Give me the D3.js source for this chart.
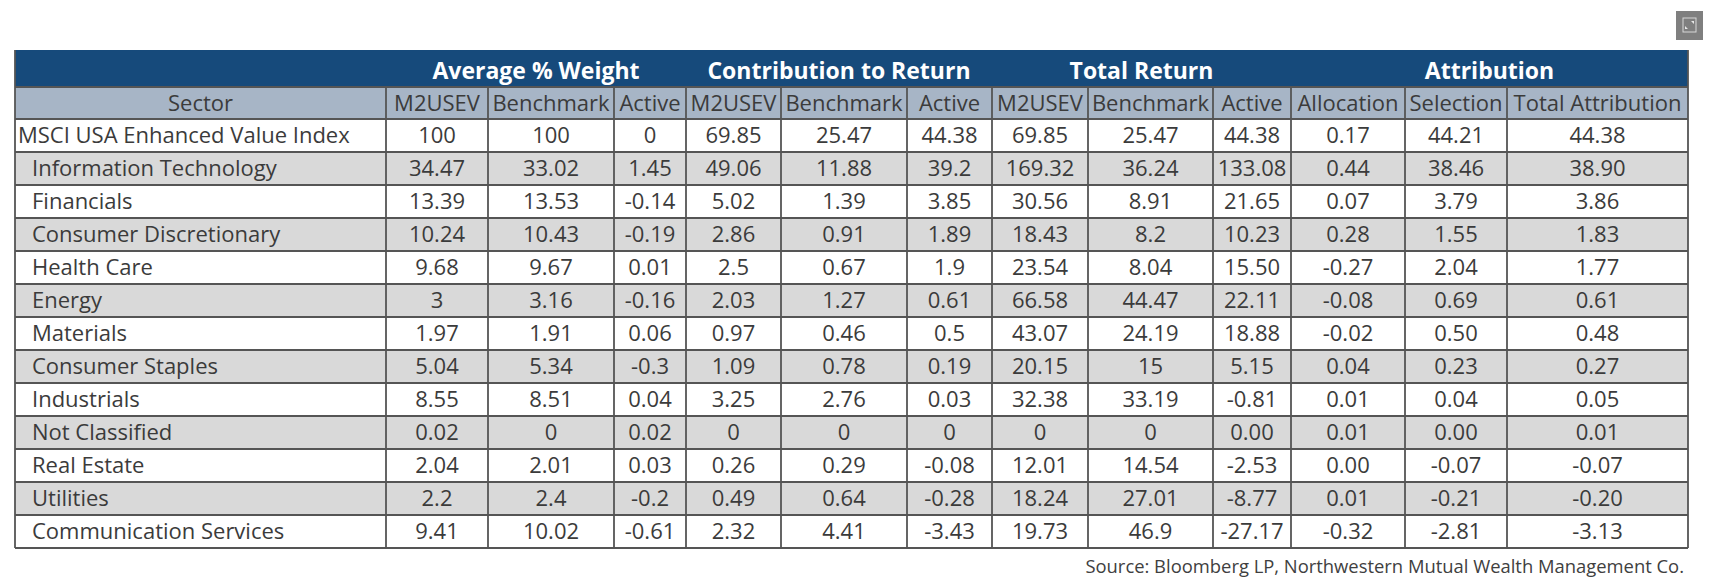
<!DOCTYPE html>
<html>
<head>
<meta charset="utf-8">
<script src="https://cdn.jsdelivr.net/npm/d3@7"></script>
<style>
  body { margin: 0; background: #fff; }
  svg { display: block; }
  .cell text { font-family: "Open Sans", sans-serif; fill: #3b3b3b; }
</style>
</head>
<body>
<div id="chart"></div>
<script>
var sectors = ["MSCI USA Enhanced Value Index", "Information Technology", "Financials",
  "Consumer Discretionary", "Health Care", "Energy", "Materials", "Consumer Staples",
  "Industrials", "Not Classified", "Real Estate", "Utilities", "Communication Services"];

var groups = ["Average % Weight", "Contribution to Return", "Total Return", "Attribution"];
var columns = ["Sector", "M2USEV", "Benchmark", "Active", "M2USEV", "Benchmark", "Active",
  "M2USEV", "Benchmark", "Active", "Allocation", "Selection", "Total Attribution"];

var weightFund   = ["100", "34.47", "13.39", "10.24", "9.68", "3", "1.97", "5.04", "8.55", "0.02", "2.04", "2.2", "9.41"];
var weightBench  = ["100", "33.02", "13.53", "10.43", "9.67", "3.16", "1.91", "5.34", "8.51", "0", "2.01", "2.4", "10.02"];
var weightActive = ["0", "1.45", "-0.14", "-0.19", "0.01", "-0.16", "0.06", "-0.3", "0.04", "0.02", "0.03", "-0.2", "-0.61"];

var contribFund   = ["69.85", "49.06", "5.02", "2.86", "2.5", "2.03", "0.97", "1.09", "3.25", "0", "0.26", "0.49", "2.32"];
var contribBench  = ["25.47", "11.88", "1.39", "0.91", "0.67", "1.27", "0.46", "0.78", "2.76", "0", "0.29", "0.64", "4.41"];
var contribActive = ["44.38", "39.2", "3.85", "1.89", "1.9", "0.61", "0.5", "0.19", "0.03", "0", "-0.08", "-0.28", "-3.43"];

var returnFund   = ["69.85", "169.32", "30.56", "18.43", "23.54", "66.58", "43.07", "20.15", "32.38", "0", "12.01", "18.24", "19.73"];
var returnBench  = ["25.47", "36.24", "8.91", "8.2", "8.04", "44.47", "24.19", "15", "33.19", "0", "14.54", "27.01", "46.9"];
var returnActive = ["44.38", "133.08", "21.65", "10.23", "15.50", "22.11", "18.88", "5.15", "-0.81", "0.00", "-2.53", "-8.77", "-27.17"];

var allocation = ["0.17", "0.44", "0.07", "0.28", "-0.27", "-0.08", "-0.02", "0.04", "0.01", "0.01", "0.00", "0.01", "-0.32"];
var selection  = ["44.21", "38.46", "3.79", "1.55", "2.04", "0.69", "0.50", "0.23", "0.04", "0.00", "-0.07", "-0.21", "-2.81"];
var totalAttr  = ["44.38", "38.90", "3.86", "1.83", "1.77", "0.61", "0.48", "0.27", "0.05", "0.01", "-0.07", "-0.20", "-3.13"];

var source = "Source: Bloomberg LP, Northwestern Mutual Wealth Management Co.";

// ---- layout ----
var W = 1716, H = 584;
var left = 15, groupTop = 50, headTop = 87, bodyTop = 119, bodyBottom = 548;
var colWidths = [371, 102, 126, 72, 95, 126, 85, 96, 125, 78, 114, 102, 181];
var groupSpans = [[1, 3], [4, 6], [7, 9], [10, 12]];
var cellFont = 22;

var edges = [left].concat(Array.from(d3.cumsum(colWidths), function(d) { return left + d; }));
var right = edges[edges.length - 1];

var x = d3.scaleOrdinal().domain(d3.range(columns.length)).range(edges.slice(0, -1));
function colW(i) { return colWidths[i]; }

var y = d3.scaleBand().domain(sectors).range([bodyTop, bodyBottom]);

var valueCols = [weightFund, weightBench, weightActive, contribFund, contribBench, contribActive,
  returnFund, returnBench, returnActive, allocation, selection, totalAttr];

var rows = sectors.map(function(s, i) {
  return { sector: s, i: i, values: valueCols.map(function(c) { return c[i]; }) };
});

var svg = d3.select("#chart").append("svg")
  .attr("width", W)
  .attr("height", H);

// blue group band
svg.append("rect")
  .attr("x", left).attr("y", groupTop)
  .attr("width", right - left).attr("height", headTop - groupTop)
  .attr("fill", "#164a7b");

svg.append("g").selectAll("text")
  .data(groups)
  .enter().append("text")
  .attr("x", function(d, i) {
    var s = groupSpans[i];
    return (edges[s[0]] + edges[s[1] + 1]) / 2;
  })
  .attr("y", (groupTop + headTop) / 2 + 2)
  .attr("dy", "0.36em")
  .attr("text-anchor", "middle")
  .style("font-family", "'Open Sans', sans-serif")
  .style("font-weight", "bold")
  .style("font-size", "23px")
  .style("fill", "#fff")
  .text(function(d) { return d; });

// column header row
var head = svg.append("g").attr("class", "cell");
head.append("rect")
  .attr("x", left).attr("y", headTop)
  .attr("width", right - left).attr("height", bodyTop - headTop)
  .attr("fill", "#a7b5c6");

head.selectAll("text")
  .data(columns)
  .enter().append("text")
  .attr("x", function(d, i) { return x(i) + colW(i) / 2; })
  .attr("y", (headTop + bodyTop) / 2)
  .attr("dy", "0.36em")
  .attr("text-anchor", "middle")
  .style("font-size", cellFont + "px")
  .text(function(d) { return d; });

// body rows
var rowG = svg.append("g").attr("class", "cell")
  .selectAll("g")
  .data(rows)
  .enter().append("g")
  .attr("transform", function(d) { return "translate(0," + y(d.sector) + ")"; });

rowG.append("rect")
  .attr("x", left)
  .attr("width", right - left)
  .attr("height", y.bandwidth())
  .attr("fill", function(d) { return d.i % 2 ? "#d9d9d9" : "#fff"; });

rowG.append("text")
  .attr("x", function(d) { return left + (d.i === 0 ? 3 : 17); })
  .attr("y", y.bandwidth() / 2)
  .attr("dy", "0.36em")
  .style("font-size", cellFont + "px")
  .text(function(d) { return d.sector; });

rowG.selectAll("text.v")
  .data(function(d) { return d.values; })
  .enter().append("text")
  .attr("class", "v")
  .attr("x", function(d, j) { return x(j + 1) + colW(j + 1) / 2; })
  .attr("y", y.bandwidth() / 2)
  .attr("dy", "0.36em")
  .attr("text-anchor", "middle")
  .style("font-size", cellFont + "px")
  .text(function(d) { return d; });

// grid lines
var grid = svg.append("g")
  .attr("stroke", "#555")
  .attr("stroke-width", 1.8)
  .attr("fill", "none");

grid.selectAll("line.h")
  .data(d3.range(sectors.length + 1))
  .enter().append("line")
  .attr("x1", left).attr("x2", right)
  .attr("y1", function(i) { return i < sectors.length ? y(sectors[i]) : bodyBottom; })
  .attr("y2", function(i) { return i < sectors.length ? y(sectors[i]) : bodyBottom; });

grid.append("line")
  .attr("x1", left).attr("x2", right)
  .attr("y1", headTop).attr("y2", headTop);

grid.selectAll("line.v")
  .data(edges)
  .enter().append("line")
  .attr("x1", function(d) { return d; }).attr("x2", function(d) { return d; })
  .attr("y1", function(d, i) { return (i === 0 || i === edges.length - 1) ? groupTop : headTop; })
  .attr("y2", bodyBottom);

// source note
svg.append("text")
  .attr("x", right - 4)
  .attr("y", 573)
  .attr("text-anchor", "end")
  .style("font-family", "'Open Sans', sans-serif")
  .style("font-size", "18.4px")
  .style("fill", "#404040")
  .text(source);

// small collapse icon, top right
var icon = svg.append("g").attr("transform", "translate(1676,11)");
icon.append("rect").attr("width", 27).attr("height", 29).attr("fill", "#7f7f7f");
icon.append("rect").attr("x", 7).attr("y", 7).attr("width", 13).attr("height", 14)
  .attr("fill", "none").attr("stroke", "#d8d8d8").attr("stroke-width", 1);
icon.append("path").attr("d", "M15,10 L18,10 L18,13 Z M12,18 L9,18 L9,15 Z")
  .attr("fill", "#e8e8e8");
</script>
</body>
</html>
